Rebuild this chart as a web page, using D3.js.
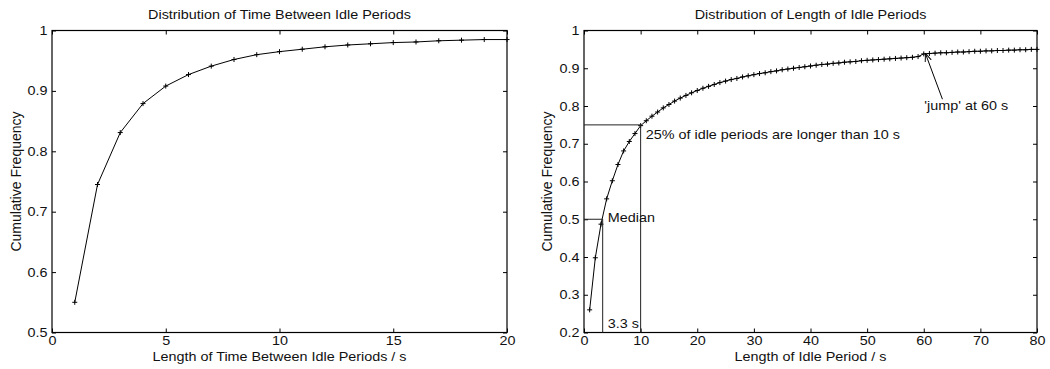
<!DOCTYPE html>
<html lang="en">
<head>
    <meta charset="UTF-8">
    <title>Idle periods</title>
    <script src="https://cdnjs.cloudflare.com/ajax/libs/d3/7.8.5/d3.min.js"></script>
    <style>
        body { margin: 0; background: #fff; }
        text { font-family: "Liberation Sans", Arial, sans-serif; fill: #111; }
    </style>
</head>
<body>
<div class="chart"></div>
<script>
    const width = 1050
    const height = 369
    const SX = 1.15   // the source picture is slightly stretched sideways

    // left: time between idle periods (s) -> cumulative frequency
    const betweenX = [1, 2, 3, 4, 5, 6, 7, 8, 9, 10, 11, 12, 13, 14, 15, 16, 17, 18, 19, 20]
    const betweenY = [0.550, 0.745, 0.831, 0.879, 0.908, 0.927, 0.941, 0.952, 0.960, 0.965,
        0.969, 0.973, 0.976, 0.978, 0.980, 0.981, 0.983, 0.984, 0.985, 0.985]

    // right: length of idle period (s) -> cumulative frequency
    const lengthX = d3.range(1, 81)
    const lengthY = [0.260, 0.398, 0.487, 0.554, 0.602, 0.645, 0.681, 0.706, 0.727, 0.748,
        0.761, 0.773, 0.784, 0.795, 0.804, 0.813, 0.821, 0.828, 0.835, 0.841,
        0.847, 0.852, 0.857, 0.862, 0.866, 0.870, 0.873, 0.877, 0.880, 0.883,
        0.886, 0.888, 0.891, 0.893, 0.896, 0.898, 0.900, 0.902, 0.904, 0.906,
        0.908, 0.910, 0.911, 0.913, 0.914, 0.916, 0.917, 0.918, 0.920, 0.921,
        0.922, 0.923, 0.924, 0.925, 0.926, 0.927, 0.928, 0.929, 0.931, 0.938,
        0.939, 0.940, 0.941, 0.941, 0.942, 0.943, 0.943, 0.944, 0.945, 0.945,
        0.946, 0.946, 0.947, 0.947, 0.948, 0.948, 0.949, 0.949, 0.950, 0.950]

    const leftXTicks = [0, 5, 10, 15, 20]
    const leftYTicks = [0.5, 0.6, 0.7, 0.8, 0.9, 1]
    const rightXTicks = [0, 10, 20, 30, 40, 50, 60, 70, 80]
    const rightYTicks = [0.2, 0.3, 0.4, 0.5, 0.6, 0.7, 0.8, 0.9, 1]

    const median = 3.3
    const quartile = { x: 10, y: 0.75 }

    const svg = d3.select('.chart')
        .append('svg')
        .attr('width', width)
        .attr('height', height)

    function stretchedText(g, x, y, txt, anchor) {
        return g.append('text')
            .attr('transform', `translate(${x},${y}) scale(${SX},1)`)
            .attr('text-anchor', anchor)
            .attr('font-size', '12.5px')
            .text(txt)
    }

    function drawPanel(o) {
        const g = svg.append('g')
        const x = d3.scaleLinear().domain(o.xDomain).range([o.left, o.right])
        const y = d3.scaleLinear().domain(o.yDomain).range([o.bottom, o.top])
        const fmt = d3.format('~g')

        const axes = [
            d3.axisBottom(x).tickValues(o.xTicks).tickSize(-4).tickSizeOuter(0).tickPadding(4).tickFormat(fmt),
            d3.axisLeft(y).tickValues(o.yTicks).tickSize(-4).tickSizeOuter(0).tickPadding(4).tickFormat(fmt),
            d3.axisTop(x).tickValues(o.xTicks).tickSize(-4).tickSizeOuter(0).tickFormat(''),
            d3.axisRight(y).tickValues(o.yTicks).tickSize(-4).tickSizeOuter(0).tickFormat('')
        ]
        const shifts = [[0, o.bottom], [o.left, 0], [0, o.top], [o.right, 0]]
        axes.forEach((a, i) => {
            const ag = g.append('g')
                .attr('transform', `translate(${shifts[i][0]},${shifts[i][1]})`)
                .call(a)
            ag.select('.domain').remove()
            ag.selectAll('line').attr('stroke', '#000')
            ag.selectAll('text')
                .attr('font-family', '"Liberation Sans", Arial, sans-serif')
                .attr('font-size', '12.5px')
                .attr('fill', '#111')
                .attr('transform', `scale(${SX},1)`)
        })

        g.append('rect')
            .attr('x', o.left).attr('y', o.top)
            .attr('width', o.right - o.left).attr('height', o.bottom - o.top)
            .attr('fill', 'none').attr('stroke', '#000').attr('stroke-width', 1.2)

        const pts = o.xs.map((v, i) => [v, o.ys[i]])
        g.append('path')
            .datum(pts)
            .attr('fill', 'none')
            .attr('stroke', '#000')
            .attr('stroke-width', 1)
            .attr('d', d3.line().x(d => x(d[0])).y(d => y(d[1])))

        g.selectAll('.mark')
            .data(pts)
            .enter()
            .append('path')
            .attr('class', 'mark')
            .attr('transform', d => `translate(${x(d[0])},${y(d[1])})`)
            .attr('d', 'M-2.5,0H2.5M0,-2.5V2.5')
            .attr('stroke', '#000')
            .attr('stroke-width', 1)

        const cx = (o.left + o.right) / 2
        stretchedText(g, cx, 19, o.title, 'middle')
        stretchedText(g, cx, 361, o.xLabel, 'middle')
        g.append('text')
            .attr('transform', `translate(${o.yLabelX},${(o.top + o.bottom) / 2}) rotate(-90)`)
            .attr('text-anchor', 'middle')
            .attr('font-size', '14px')
            .text('Cumulative Frequency')

        return { g, x, y }
    }

    drawPanel({
        left: 52, right: 507, top: 30.5, bottom: 332.5,
        xDomain: [0, 20], yDomain: [0.5, 1],
        xTicks: leftXTicks, yTicks: leftYTicks,
        xs: betweenX, ys: betweenY,
        title: 'Distribution of Time Between Idle Periods',
        xLabel: 'Length of Time Between Idle Periods / s',
        yLabelX: 21
    })

    const right = drawPanel({
        left: 584, right: 1037, top: 30.5, bottom: 332.5,
        xDomain: [0, 80], yDomain: [0.2, 1],
        xTicks: rightXTicks, yTicks: rightYTicks,
        xs: lengthX, ys: lengthY,
        title: 'Distribution of Length of Idle Periods',
        xLabel: 'Length of Idle Period / s',
        yLabelX: 552
    })

    // annotations on the right panel
    const rx = right.x
    const ry = right.y
    const ag = right.g
    const guide = [
        [[0, quartile.y], [quartile.x, quartile.y], [quartile.x, 0.2]],
        [[0, 0.5], [median, 0.5], [median, 0.2]]
    ]
    ag.selectAll('.guide')
        .data(guide)
        .enter()
        .append('path')
        .attr('class', 'guide')
        .attr('fill', 'none')
        .attr('stroke', '#222')
        .attr('stroke-width', 1)
        .attr('d', d3.line().x(d => rx(d[0])).y(d => ry(d[1])))

    function note(xv, yv, txt) {
        stretchedText(ag, rx(xv), ry(yv), txt, 'start').attr('dy', '0.35em')
    }
    note(10.9, 0.723, '25% of idle periods are longer than 10 s')
    note(4.2, 0.503, 'Median')
    note(4.2, 0.223, '3.3 s')
    note(60.1, 0.802, '\'jump\' at 60 s')

    svg.append('defs').append('marker')
        .attr('id', 'arrowhead')
        .attr('viewBox', '0 0 10 10')
        .attr('refX', 10).attr('refY', 5)
        .attr('markerWidth', 8).attr('markerHeight', 8)
        .attr('markerUnits', 'userSpaceOnUse')
        .attr('orient', 'auto')
        .append('path')
        .attr('d', 'M0,1L10,5L0,9')
        .attr('fill', 'none')
        .attr('stroke', '#000')
        .attr('stroke-width', 1.2)

    ag.append('line')
        .attr('x1', rx(63.3)).attr('y1', ry(0.818))
        .attr('x2', rx(60.3)).attr('y2', ry(0.939))
        .attr('stroke', '#000')
        .attr('stroke-width', 1)
        .attr('marker-end', 'url(#arrowhead)')
</script>
</body>
</html>
